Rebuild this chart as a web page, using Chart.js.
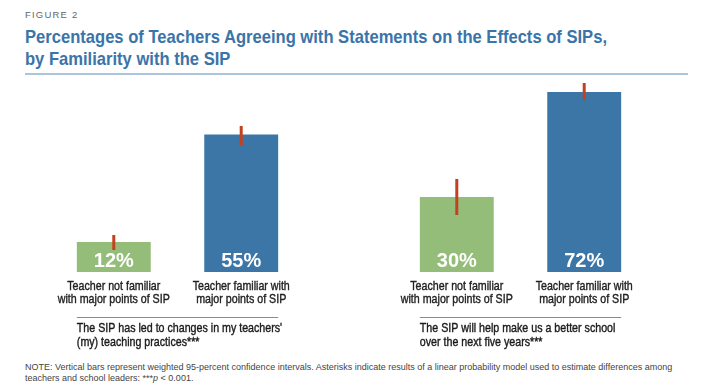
<!DOCTYPE html>
<html lang="en">
<head>
    <meta charset="UTF-8">
    <title>Figure 2</title>
    <script src="https://cdn.jsdelivr.net/npm/chart.js"></script>
    <style>
        body {
            margin: 0;
            background: #fff;
            width: 704px;
            height: 390px;
            position: relative;
            overflow: hidden;
            font-family: 'Liberation Sans', Arial, sans-serif;
        }
        #figNum {
            position: absolute;
            left: 25px;
            top: 9px;
            font-size: 9.5px;
            letter-spacing: 1.2px;
            color: #666;
        }
        #title {
            position: absolute;
            left: 25px;
            top: 26px;
            font-weight: bold;
            font-size: 19px;
            line-height: 22px;
            color: #3a74a9;
            white-space: nowrap;
        }
        #title span {
            display: inline-block;
            transform-origin: left center;
        }
        #rule {
            position: absolute;
            left: 25px;
            top: 73px;
            width: 663px;
            height: 2px;
            background: #aac5dd;
        }
        #chartBox {
            position: absolute;
            left: 0;
            top: 80px;
            width: 704px;
            height: 270px;
        }
        #note {
            position: absolute;
            left: 25px;
            top: 362px;
            font-size: 9px;
            line-height: 11px;
            color: #444;
            white-space: nowrap;
        }
    </style>
</head>
<body>
    <div id="figNum">FIGURE 2</div>
    <div id="title"><span>Percentages of Teachers Agreeing with Statements on the Effects of SIPs,</span><br><span>by Familiarity with the SIP</span></div>
    <div id="rule"></div>
    <div id="chartBox"><canvas id="sipChart"></canvas></div>
    <div id="note">NOTE: Vertical bars represent weighted 95-percent confidence intervals. Asterisks indicate results of a linear probability model used to estimate differences among<br>teachers and school leaders: ***<i>p</i> &lt; 0.001.</div>

    <script>
        // statements (x categories)
        const statements = [
            ["The SIP has led to changes in my teachers'", "(my) teaching practices***"],
            ["The SIP will help make us a better school", "over the next five years***"]
        ];
        // groups (one dataset each)
        const groupLabels = [
            ['Teacher not familiar', 'with major points of SIP'],
            ['Teacher familiar with', 'major points of SIP']
        ];
        const notFamiliar = [12, 30];
        const familiar = [55, 72];
        // 95% confidence intervals
        const notFamiliarLow = [8.8, 22.8];
        const notFamiliarHigh = [14.8, 37.2];
        const familiarLow = [50.8, 68.8];
        const familiarHigh = [58.4, 75.6];

        const ciLow = [notFamiliarLow, familiarLow];
        const ciHigh = [notFamiliarHigh, familiarHigh];

        // no condensed font installed, so squeeze Liberation Sans
        const squeeze = 0.82;
        const titleSpans = document.querySelectorAll('#title span');
        const titleScale = 582 / titleSpans[0].getBoundingClientRect().width;
        titleSpans.forEach(s => s.style.transform = 'scaleX(' + titleScale + ')');

        function narrowText(ctx, text, x, y, align) {
            ctx.save();
            ctx.translate(x, y);
            ctx.scale(squeeze, 1);
            ctx.textAlign = align;
            ctx.fillText(text, 0, 0);
            // thin outline for a medium weight look
            ctx.strokeStyle = ctx.fillStyle;
            ctx.lineWidth = 0.4;
            ctx.strokeText(text, 0, 0);
            ctx.restore();
        }

        const labelPlugin = {
            id: 'labelPlugin',
            afterDatasetsDraw(chart) {
                const ctx = chart.ctx;
                const yScale = chart.scales.y;
                ctx.save();
                chart.data.datasets.forEach((ds, i) => {
                    const meta = chart.getDatasetMeta(i);
                    meta.data.forEach((bar, j) => {
                        // value inside bar
                        ctx.fillStyle = '#fff';
                        ctx.font = "bold 20px 'Liberation Sans', Arial, sans-serif";
                        ctx.textAlign = 'center';
                        ctx.textBaseline = 'alphabetic';
                        ctx.fillText(ds.data[j] + '%', bar.x, bar.base - 5);
                        // confidence interval
                        ctx.strokeStyle = '#c4411f';
                        ctx.lineWidth = 3;
                        ctx.beginPath();
                        ctx.moveTo(bar.x, yScale.getPixelForValue(ciLow[i][j]));
                        ctx.lineTo(bar.x, yScale.getPixelForValue(ciHigh[i][j]));
                        ctx.stroke();
                        // group label under bar
                        ctx.fillStyle = '#222222';
                        ctx.font = "13px 'Liberation Sans', Arial, sans-serif";
                        ctx.textBaseline = 'middle';
                        groupLabels[i].forEach((line, k) => {
                            narrowText(ctx, line, bar.x, bar.base + 14 + k * 13.5, 'center');
                        });
                    });
                });
                // statement labels
                const first = chart.getDatasetMeta(0).data;
                const last = chart.getDatasetMeta(chart.data.datasets.length - 1).data;
                statements.forEach((lines, j) => {
                    const left = first[j].x - first[j].width / 2;
                    const right = last[j].x + last[j].width / 2;
                    const base = first[j].base;
                    ctx.strokeStyle = '#8c8c8c';
                    ctx.lineWidth = 1;
                    ctx.beginPath();
                    ctx.moveTo(left, Math.round(base + 45) + 0.5);
                    ctx.lineTo(right, Math.round(base + 45) + 0.5);
                    ctx.stroke();
                    ctx.fillStyle = '#1a1a1a';
                    ctx.font = "13px 'Liberation Sans', Arial, sans-serif";
                    ctx.textBaseline = 'middle';
                    lines.forEach((line, k) => {
                        narrowText(ctx, line, left, base + 56 + k * 14, 'left');
                    });
                });
                ctx.restore();
            }
        };

        new Chart(document.getElementById('sipChart'), {
            type: 'bar',
            data: {
                labels: statements.map(s => s.join(' ')),
                datasets: [
                    { label: groupLabels[0].join(' '), data: notFamiliar, backgroundColor: '#93bd78', borderWidth: 0 },
                    { label: groupLabels[1].join(' '), data: familiar, backgroundColor: '#3b76a6', borderWidth: 0 }
                ]
            },
            options: {
                responsive: true,
                maintainAspectRatio: false,
                animation: false,
                categoryPercentage: 0.743,
                barPercentage: 0.58,
                layout: { padding: { left: 6, right: 12, top: 2, bottom: 78 } },
                plugins: {
                    legend: { display: false },
                    tooltip: { enabled: false }
                },
                scales: {
                    x: { display: false },
                    y: { display: false, min: 0, max: 76 }
                }
            },
            plugins: [labelPlugin]
        });
    </script>
</body>
</html>
